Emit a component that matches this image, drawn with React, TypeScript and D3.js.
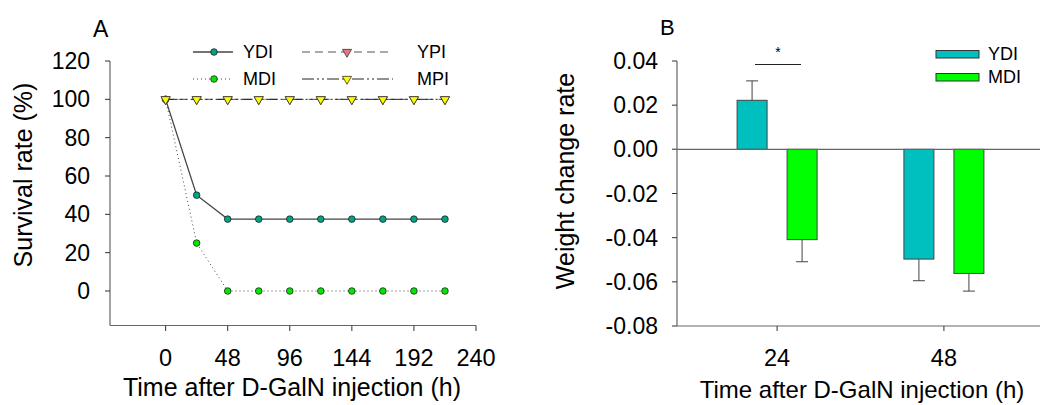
import React, { useRef, useEffect } from 'react';
import * as d3 from 'd3';

// Panel A: survival over time
const hours = [0, 24, 48, 72, 96, 120, 144, 168, 192, 216];
const ydiSurvival = [100, 50, 37.5, 37.5, 37.5, 37.5, 37.5, 37.5, 37.5, 37.5];
const mdiSurvival = [100, 25, 0, 0, 0, 0, 0, 0, 0, 0];
const ypiSurvival = [100, 100, 100, 100, 100, 100, 100, 100, 100, 100];
const mpiSurvival = [100, 100, 100, 100, 100, 100, 100, 100, 100, 100];
const xTicksA = [0, 48, 96, 144, 192, 240];
const yTicksA = [0, 20, 40, 60, 80, 100, 120];

// Panel B: weight change
const groupsB = ['24', '48'];
const seriesB = ['YDI', 'MDI'];
const ydiWeight = [0.0222, -0.0497];
const ydiErr = [0.0088, 0.0098];
const mdiWeight = [-0.0409, -0.0562];
const mdiErr = [0.0100, 0.0080];
const yTicksB = [0.04, 0.02, 0, -0.02, -0.04, -0.06, -0.08];

const FONT = '"Liberation Sans", Arial, sans-serif';
const AXIS = '#666';

// plain hyphen instead of the unicode minus d3 uses
const fmtB = (t: number) => d3.format('.2f')(t).replace('\u2212', '-');

const App = () => {
  const ref = useRef<SVGSVGElement>(null);

  useEffect(() => {
    const svg = d3.select(ref.current);
    svg.selectAll('*').remove();
    svg.attr('font-family', FONT);

    // ---------- Panel A ----------
    const x = d3.scaleLinear().domain([-43, 240]).range([110, 476]);
    const y = d3.scaleLinear().domain([-18, 120]).range([325.5, 61]);

    const gA = svg.append('g');

    // axes
    gA.append('line').attr('x1', 110).attr('x2', 110).attr('y1', 61).attr('y2', 325.5)
      .attr('stroke', AXIS).attr('stroke-width', 1.2);
    gA.append('line').attr('x1', 110).attr('x2', 476).attr('y1', 325.5).attr('y2', 325.5)
      .attr('stroke', AXIS).attr('stroke-width', 1.2);

    yTicksA.forEach(t => {
      gA.append('line').attr('x1', 105).attr('x2', 110).attr('y1', y(t)).attr('y2', y(t))
        .attr('stroke', '#333');
      gA.append('text').attr('x', 90).attr('y', y(t)).attr('dy', '0.35em')
        .attr('text-anchor', 'end').attr('font-size', 23).attr('fill', '#000').text(t);
    });
    xTicksA.forEach(t => {
      gA.append('line').attr('x1', x(t)).attr('x2', x(t)).attr('y1', 325.5).attr('y2', 331)
        .attr('stroke', '#333');
      gA.append('text').attr('x', x(t)).attr('y', 358).attr('dy', '0.35em')
        .attr('text-anchor', 'middle').attr('font-size', 23.5).attr('fill', '#000').text(t);
    });

    gA.append('text').attr('x', 292).attr('y', 387).attr('dy', '0.35em')
      .attr('text-anchor', 'middle').attr('font-size', 25).text('Time after D-GalN injection (h)');
    gA.append('text').attr('transform', 'translate(23,175) rotate(-90)').attr('dy', '0.35em')
      .attr('text-anchor', 'middle').attr('font-size', 25).text('Survival rate (%)');
    gA.append('text').attr('x', 93).attr('y', 29).attr('dy', '0.35em')
      .attr('text-anchor', 'start').attr('font-size', 23).text('A');

    const tri = d3.symbol().type(d3.symbolTriangle).size(36);

    const seriesA = [
      { name: 'YDI', values: ydiSurvival, stroke: '#444', width: 1.3, dash: null, marker: 'circle', fill: '#00A383' },
      { name: 'MDI', values: mdiSurvival, stroke: '#444', width: 1, dash: '1,3', marker: 'circle', fill: '#00E800' },
      { name: 'YPI', values: ypiSurvival, stroke: '#555', width: 1, dash: '8,5', marker: 'tri', fill: '#E8787C' },
      { name: 'MPI', values: mpiSurvival, stroke: '#222', width: 1, dash: '12,3,2,3,2,3', marker: 'tri', fill: '#FFFF00' },
    ];

    const drawMarker = (g, s, cx, cy) => {
      if (s.marker === 'circle') {
        g.append('circle').attr('cx', cx).attr('cy', cy).attr('r', 3.3)
          .attr('fill', s.fill).attr('stroke', '#222').attr('stroke-width', 0.8);
      } else {
        g.append('path').attr('d', tri)
          .attr('transform', `translate(${cx},${cy}) rotate(180)`)
          .attr('fill', s.fill).attr('stroke', '#333').attr('stroke-width', 0.8);
      }
    };

    const line = d3.line<number>().x((d, i) => x(hours[i])).y(d => y(d));

    seriesA.forEach(s => {
      gA.append('path').datum(s.values).attr('d', line).attr('fill', 'none')
        .attr('stroke', s.stroke).attr('stroke-width', s.width)
        .attr('stroke-dasharray', s.dash);
      s.values.forEach((v, i) => drawMarker(gA, s, x(hours[i]), y(v)));
    });

    // legend A
    const legendA = [
      { s: seriesA[0], x1: 193, x2: 233, mx: 214, tx: 243, y: 52 },
      { s: seriesA[1], x1: 193, x2: 233, mx: 214, tx: 243, y: 79 },
      { s: seriesA[2], x1: 302, x2: 393, mx: 347, tx: 417, y: 52 },
      { s: seriesA[3], x1: 302, x2: 393, mx: 347, tx: 417, y: 79 },
    ];
    legendA.forEach(l => {
      gA.append('line').attr('x1', l.x1).attr('x2', l.x2).attr('y1', l.y).attr('y2', l.y)
        .attr('stroke', l.s.stroke).attr('stroke-width', l.s.width)
        .attr('stroke-dasharray', l.s.dash);
      drawMarker(gA, l.s, l.mx, l.y);
      gA.append('text').attr('x', l.tx).attr('y', l.y).attr('dy', '0.35em')
        .attr('font-size', 18).text(l.s.name);
    });

    // ---------- Panel B ----------
    const xb = d3.scalePoint().domain(groupsB).range([677, 1044]).padding(0.6);
    const sub = d3.scaleBand().domain(seriesB).range([-40, 40]).paddingInner(0.4);
    const yb = d3.scaleLinear().domain([-0.08, 0.04]).range([326, 61]);
    const gB = svg.append('g');

    gB.append('line').attr('x1', 677).attr('x2', 677).attr('y1', 61).attr('y2', 326)
      .attr('stroke', AXIS).attr('stroke-width', 1.2);
    gB.append('line').attr('x1', 677).attr('x2', 1040).attr('y1', 326).attr('y2', 326)
      .attr('stroke', AXIS).attr('stroke-width', 1.2);

    yTicksB.forEach(t => {
      gB.append('line').attr('x1', 672).attr('x2', 677).attr('y1', yb(t)).attr('y2', yb(t))
        .attr('stroke', '#333');
      gB.append('text').attr('x', 658).attr('y', yb(t)).attr('dy', '0.35em')
        .attr('text-anchor', 'end').attr('font-size', 23).text(fmtB(t));
    });
    groupsB.forEach(gname => {
      gB.append('line').attr('x1', xb(gname)).attr('x2', xb(gname)).attr('y1', 326).attr('y2', 331)
        .attr('stroke', '#333');
      gB.append('text').attr('x', xb(gname)).attr('y', 358).attr('dy', '0.35em')
        .attr('text-anchor', 'middle').attr('font-size', 23.5).text(gname);
    });

    gB.append('text').attr('x', 862).attr('y', 390).attr('dy', '0.35em')
      .attr('text-anchor', 'middle').attr('font-size', 24).text('Time after D-GalN injection (h)');
    gB.append('text').attr('transform', 'translate(565,181) rotate(-90)').attr('dy', '0.35em')
      .attr('text-anchor', 'middle').attr('font-size', 25).text('Weight change rate');
    gB.append('text').attr('x', 660).attr('y', 27).attr('dy', '0.35em')
      .attr('text-anchor', 'start').attr('font-size', 22).text('B');

    const barSeries = [
      { name: 'YDI', values: ydiWeight, errs: ydiErr, fill: '#00BFBF' },
      { name: 'MDI', values: mdiWeight, errs: mdiErr, fill: '#00FF00' },
    ];

    barSeries.forEach(s => {
      s.values.forEach((v, i) => {
        const bx = xb(groupsB[i]) + sub(s.name);
        const w = sub.bandwidth();
        const top = Math.min(yb(v), yb(0));
        const h = Math.abs(yb(v) - yb(0));
        const errEnd = yb(v + Math.sign(v) * s.errs[i]);
        const cx = bx + w / 2;
        gB.append('line').attr('x1', cx).attr('x2', cx).attr('y1', yb(v)).attr('y2', errEnd)
          .attr('stroke', '#444');
        gB.append('line').attr('x1', cx - 6).attr('x2', cx + 6).attr('y1', errEnd).attr('y2', errEnd)
          .attr('stroke', '#444');
        gB.append('rect').attr('x', bx).attr('y', top).attr('width', w).attr('height', h)
          .attr('fill', s.fill).attr('stroke', '#444').attr('stroke-width', 1);
      });
    });

    // zero line
    gB.append('line').attr('x1', 672).attr('x2', 1040).attr('y1', yb(0)).attr('y2', yb(0))
      .attr('stroke', AXIS).attr('stroke-width', 1.4);

    // significance marker
    gB.append('line').attr('x1', 755).attr('x2', 801).attr('y1', 64.5).attr('y2', 64.5)
      .attr('stroke', '#222');
    gB.append('text').attr('x', 778).attr('y', 52).attr('dy', '0.35em')
      .attr('text-anchor', 'middle').attr('font-size', 14).text('*');

    // legend B
    barSeries.forEach((s, i) => {
      const ly = 54 + i * 23;
      gB.append('rect').attr('x', 936).attr('y', ly - 3.5).attr('width', 43).attr('height', 7.5)
        .attr('fill', s.fill).attr('stroke', '#333');
      gB.append('text').attr('x', 988).attr('y', ly).attr('dy', '0.35em')
        .attr('font-size', 18).text(s.name);
    });
  }, []);

  return (
    <svg ref={ref} width={1040} height={405}
      style={{ position: 'absolute', left: 0, top: 0, background: '#fff' }} />
  );
};

export default App;
